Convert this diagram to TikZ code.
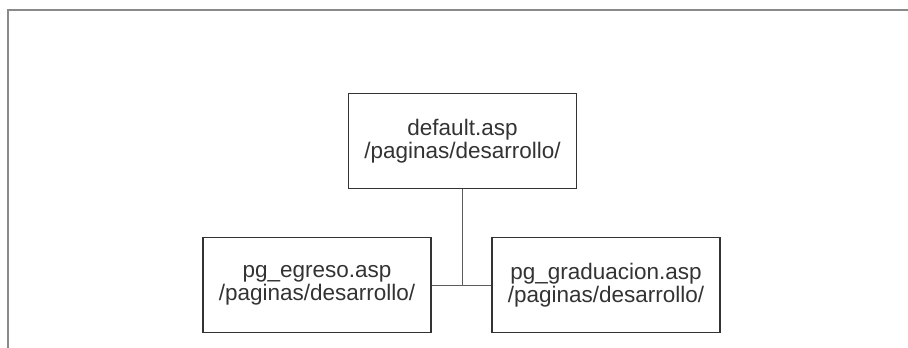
\documentclass[tikz,border=0pt]{standalone}
\usepackage{fontspec}
\setmainfont{Liberation Sans}
\usepackage{tikz}
\usetikzlibrary{positioning}
\definecolor{inkgray}{HTML}{333333}
\definecolor{framegray}{HTML}{8A8A8A}

\begin{document}
\begin{tikzpicture}[x=1pt, y=-1pt, font=\fontsize{22.5}{23}\selectfont,
  page/.style={draw=inkgray, line width=1.4pt, text=inkgray, align=center,
    minimum width=228pt, minimum height=95pt, inner sep=0pt},
  link/.style={draw=inkgray!80, line width=1pt}]
	\useasboundingbox (0,0) rectangle (908,348);
	\draw[color=framegray, line width=1.3pt] (908,10) -- (8,10) -- (8,348);
	\node[page] (default) at (462.5,141) {default.asp\\/paginas/desarrollo/};
	\node[page] (egreso) at (317,285) {pg\_egreso.asp\\/paginas/desarrollo/};
	\node[page] (graduacion) at (606,285) {pg\_graduacion.asp\\/paginas/desarrollo/};
	\draw[link] (egreso.east) -- (graduacion.west);
	\draw[link] (default.south) -- (default.south |- egreso.east);
\end{tikzpicture}
\end{document}
